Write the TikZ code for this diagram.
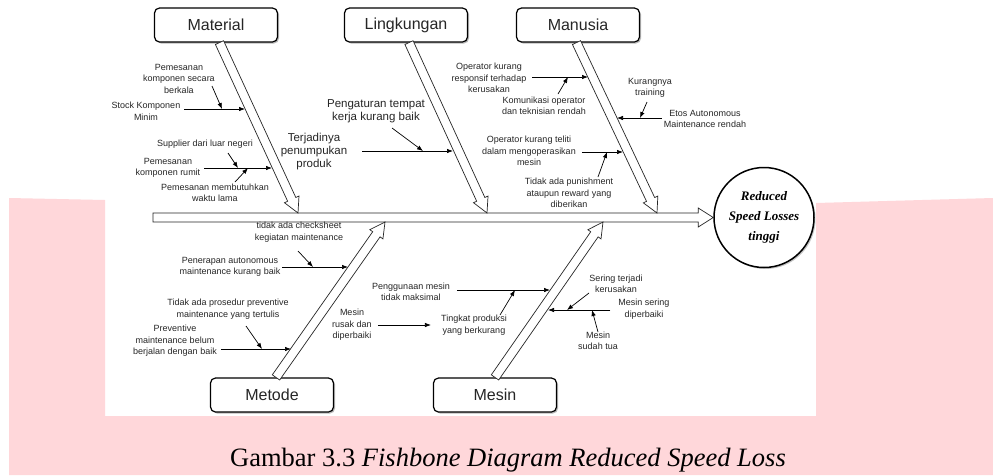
\documentclass[tikz,border=0pt]{standalone}
\usepackage{fontspec}
\setmainfont{Liberation Serif}
\setsansfont{Liberation Sans}
\usetikzlibrary{arrows.meta,calc,shadows}

\definecolor{blush}{RGB}{255,215,218}
\definecolor{ink}{RGB}{38,38,38}

\newcommand\drawbone[5]{%
  \coordinate (hb) at ($(#2)!#5!(#1)$);
  \draw [hollow] ($(#1)!#3!90:(#2)$) -- ($(hb)!#3!90:(#2)$) -- ($(hb)!#4!90:(#2)$) -- (#2)
    -- ($(hb)!#4!-90:(#2)$) -- ($(hb)!#3!-90:(#2)$) -- ($(#1)!#3!-90:(#2)$) -- cycle;}

\begin{document}
\begin{tikzpicture}[x=1pt, y=-1pt,
    hollow/.style={draw=ink, line width=0.7pt, fill=white, line join=miter},
    category/.style={draw, rounded corners=5pt, line width=1.2pt, fill=white,
      minimum width=123pt, minimum height=34pt, text=ink,
      font=\sffamily\fontsize{16}{18}\selectfont,
      drop shadow={shadow xshift=1.5pt, shadow yshift=-1.5pt, fill=black!55}},
    effect/.style={circle, draw, line width=1.5pt, fill=white, minimum size=100pt,
      align=center, inner sep=0pt, font=\fontsize{13}{20}\selectfont\bfseries\itshape,
      drop shadow={shadow xshift=1.5pt, shadow yshift=-1.5pt, fill=black!45}},
    cause/.style={align=center, inner sep=2pt, text=ink, font=\sffamily\fontsize{9}{11.5}\selectfont},
    bigcause/.style={cause, font=\sffamily\fontsize{11.5}{13}\selectfont},
    sub/.style={-{Latex[length=6pt, width=4.5pt]}, line width=0.7pt}]

    \useasboundingbox (0,0) rectangle (993,475);
    \fill [white] (0,0) rectangle (993,475);
    \fill [blush] (9,198) -- (105,200) -- (105,416) -- (816,416) -- (816,203) -- (993,198) -- (993,475) -- (9,475) -- cycle;

    \node [category] (material) at (216,25) {Material};
    \node [category] (lingkungan) at (406,25) {Lingkungan};
    \node [category] (manusia) at (578,25) {Manusia};
    \node [category] (metode) at (272,395) {Metode};
    \node [category] (mesin) at (495,395) {Mesin};
    \node [effect] (losses) at (764,217.5) {Reduced\\Speed Losses\\tinggi};

    \coordinate (tail) at (153,217.5);
    \coordinate (s-mat) at ([xshift=3.5pt]material.south);
    \coordinate (s-lin) at ([xshift=3pt]lingkungan.south);
    \coordinate (s-man) at ([xshift=-1.5pt]manusia.south);
    \coordinate (s-met) at ([xshift=4pt]metode.north);
    \coordinate (s-mes) at (mesin.north);
    \coordinate (t-mat) at (298,213);
    \coordinate (t-lin) at (487,213);
    \coordinate (t-man) at (657,213);
    \coordinate (t-met) at (385,222);
    \coordinate (t-mes) at (603,222);

    \drawbone{tail}{losses.west}{4.5pt}{9.5pt}{15pt}
    \drawbone{s-mat}{t-mat}{4.5pt}{8pt}{15pt}
    \drawbone{s-lin}{t-lin}{4.5pt}{8pt}{15pt}
    \drawbone{s-man}{t-man}{4.5pt}{8pt}{15pt}
    \drawbone{s-met}{t-met}{4.5pt}{8pt}{15pt}
    \drawbone{s-mes}{t-mes}{4.5pt}{8pt}{15pt}

    \node [cause] (pks) at (179,78.5) {Pemesanan\\komponen secara\\berkala};
    \node [cause] (stock) at (146,111) {Stock Komponen\\Minim};
    \node [cause] (supp) at (205,144) {Supplier dari luar negeri};
    \node [cause] (rumit) at (168,168) {Pemesanan\\komponen rumit};
    \node [cause] (waktu) at (215,193) {Pemesanan membutuhkan\\waktu lama};

    \node [bigcause] (tempat) at (376,111) {Pengaturan tempat\\kerja kurang baik};
    \node [bigcause] (tumpuk) at (314,152) {Terjadinya\\penumpukan\\produk};

    \node [cause] (resp) at (489,78) {Operator kurang\\responsif terhadap\\kerusakan};
    \node [cause] (kom) at (544,106) {Komunikasi operator\\dan teknisian rendah};
    \node [cause] (train) at (650,88) {Kurangnya\\training};
    \node [cause] (etos) at (705,119) {Etos Autonomous\\Maintenance rendah};
    \node [cause] (teliti) at (529,151) {Operator kurang teliti\\dalam mengoperasikan\\mesin};
    \node [cause] (punish) at (569,193) {Tidak ada punishment\\ataupun reward yang\\diberikan};

    \node [cause] (check) at (299,232) {tidak ada checksheet\\kegiatan maintenance};
    \node [cause] (auto) at (230,267) {Penerapan autonomous\\maintenance kurang baik};
    \node [cause] (pros) at (228,309) {Tidak ada prosedur preventive\\maintenance yang tertulis};
    \node [cause] (prev) at (175,341) {Preventive\\maintenance belum\\berjalan dengan baik};

    \node [cause] (rusak) at (352,325) {Mesin\\rusak dan\\diperbaiki};
    \node [cause] (tingkat) at (474,325) {Tingkat produksi\\yang berkurang};
    \node [cause] (guna) at (411,292) {Penggunaan mesin\\tidak maksimal};
    \node [cause] (sering) at (616,284) {Sering terjadi\\kerusakan};
    \node [cause] (msering) at (644,309) {Mesin sering\\diperbaiki};
    \node [cause] (tua) at (598,341) {Mesin\\sudah tua};

    \coordinate (m-stock) at (245,109);
    \coordinate (m-rumit) at (272,168);
    \coordinate (c-pks) at (222,109);
    \coordinate (c-supp) at (238,168);
    \coordinate (c-waktu) at (248,168);
    \coordinate (l-tumpuk) at (453,151);
    \coordinate (c-tempat) at (423,151);
    \coordinate (h-resp) at (588,77);
    \coordinate (h-etos) at (617,118);
    \coordinate (h-teliti) at (623,152);
    \coordinate (c-kom) at (568,77);
    \coordinate (c-train) at (640,118);
    \coordinate (c-punish) at (607,152);
    \coordinate (d-auto) at (348,267);
    \coordinate (d-prev) at (291,349);
    \coordinate (c-check) at (313,267);
    \coordinate (c-pros) at (262,349);
    \coordinate (n-guna) at (550,290);
    \coordinate (n-msering) at (548,310);
    \coordinate (c-tingkat) at (515,290);
    \coordinate (c-sering) at (567,310);
    \coordinate (c-tua) at (592,310);

    \draw [sub, shorten <=2pt] (stock.east |- m-stock) to (m-stock);
    \draw [sub] ([shift={(33,7.5)}]pks.center) to (c-pks);
    \draw [sub, shorten <=2pt] (rumit.east |- m-rumit) to (m-rumit);
    \draw [sub] ([shift={(23,9)}]supp.center) to (c-supp);
    \draw [sub] ([shift={(20,-11)}]waktu.center) to (c-waktu);

    \draw [sub, shorten <=13pt] (tumpuk.east |- l-tumpuk) to (l-tumpuk);
    \draw [sub] ([shift={(16,17)}]tempat.center) to (c-tempat);

    \draw [sub, shorten <=4pt] (resp.east |- h-resp) to (h-resp);
    \draw [sub] ([shift={(14,-12)}]kom.center) to (c-kom);
    \draw [sub] (etos.west |- h-etos) to (h-etos);
    \draw [sub] ([shift={(-3,14)}]train.center) to (c-train);
    \draw [sub, shorten <=4pt] (teliti.east |- h-teliti) to (h-teliti);
    \draw [sub] ([shift={(29,-16)}]punish.center) to (c-punish);

    \draw [sub] (auto.east |- d-auto) to (d-auto);
    \draw [sub] ([shift={(-1,19)}]check.center) to (c-check);
    \draw [sub, shorten <=2pt] (prev.east |- d-prev) to (d-prev);
    \draw [sub] ([shift={(18,17)}]pros.center) to (c-pros);

    \draw [sub, shorten <=4pt, shorten >=8pt] (rusak) to (tingkat);
    \draw [sub, shorten <=5pt] (guna.east |- n-guna) to (n-guna);
    \draw [sub] ([shift={(26,-10)}]tingkat.center) to (c-tingkat);
    \draw [sub, shorten <=6pt] (msering.west |- n-msering) to (n-msering);
    \draw [sub] ([shift={(-27,9)}]sering.center) to (c-sering);
    \draw [sub] ([shift={(0,-9)}]tua.center) to (c-tua);

    \node [anchor=base, font=\fontsize{26.5}{30}\selectfont] (caption) at (508,466) {Gambar 3.3 \textit{Fishbone Diagram Reduced Speed Loss}};

\end{tikzpicture}
\end{document}
